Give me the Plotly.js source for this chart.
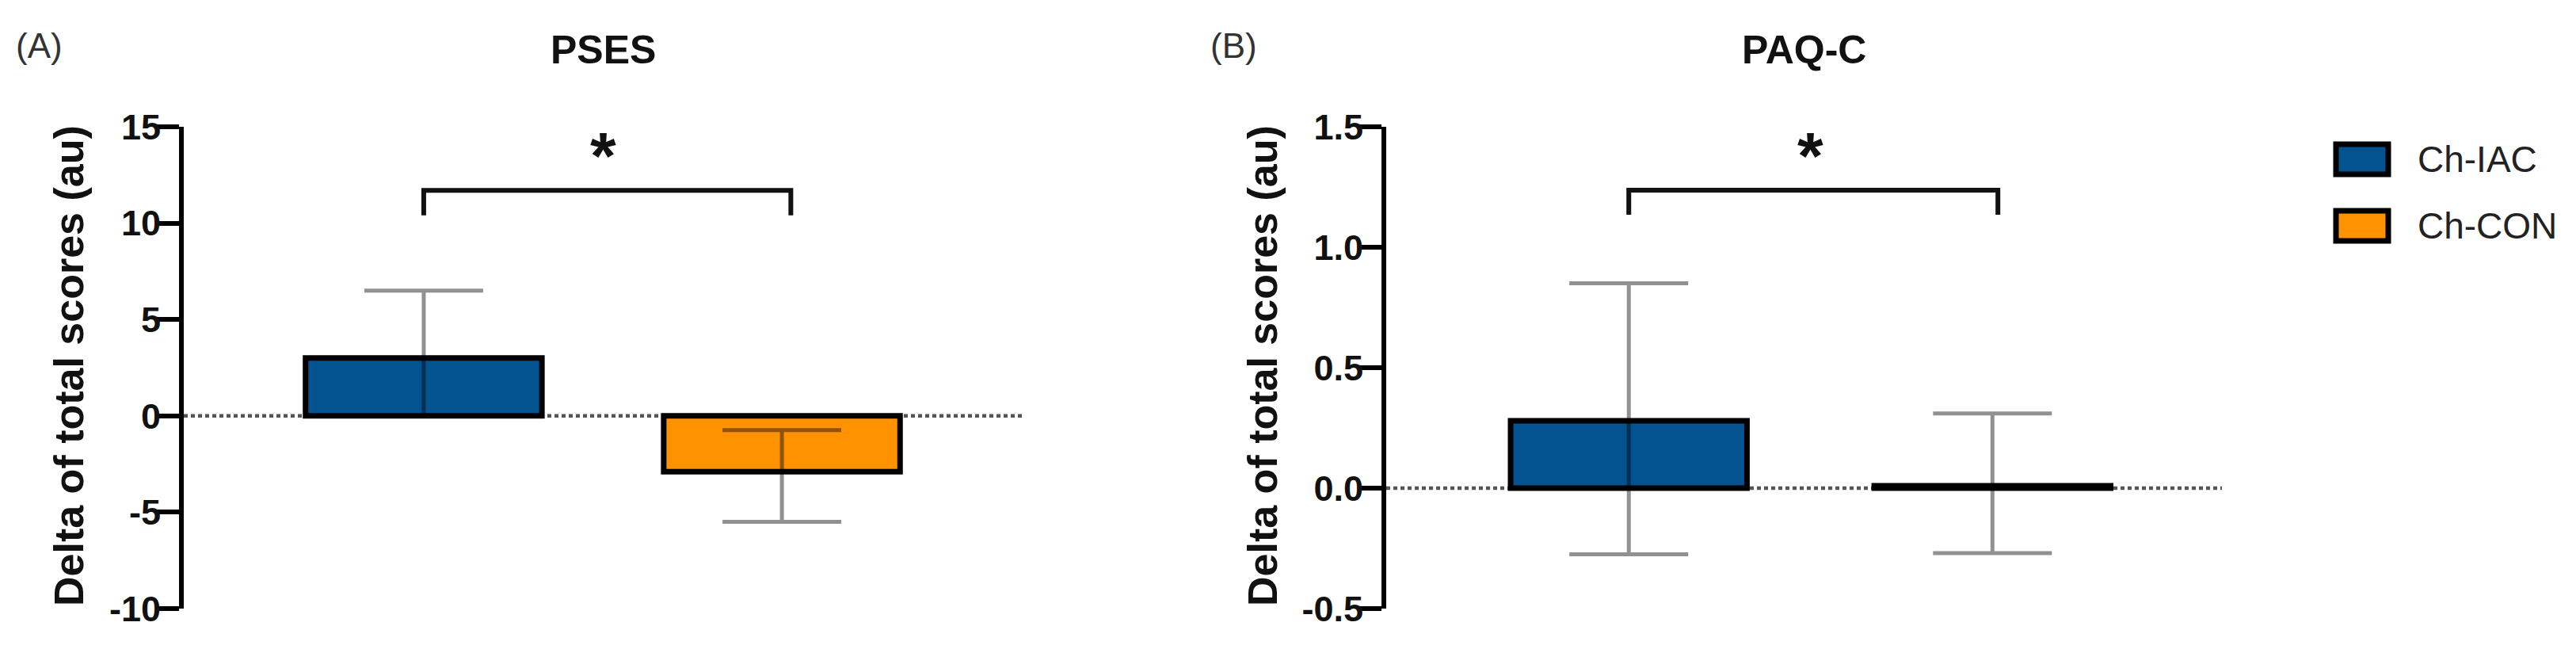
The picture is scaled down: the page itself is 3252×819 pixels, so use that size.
<!DOCTYPE html>
<html>
<head>
<meta charset="utf-8">
<script src="https://cdn.plot.ly/plotly-3.0.1.min.js"></script>
<style>html,body{margin:0;padding:0;background:#fff;}#chart{width:3252px;height:819px;}</style>
</head>
<body>
<div id="chart"></div>
<script>
// ---- data ----
const panelTitles = ['PSES', 'PAQ-C'];
const panelLetters = ['(A)', '(B)'];
const groups = ['Ch-IAC', 'Ch-CON'];
const psesMean = [3.0, -2.9];
const psesErrPlus = [3.5, 2.16];
const psesErrMinus = [3.0, 2.6];
const paqMean = [0.28, 0.01];
const paqErrPlus = [0.57, 0.30];
const paqErrMinus = [0.555, 0.28];
const psesTickVals = [-10, -5, 0, 5, 10, 15];
const psesTickText = ['-10', '-5', '0', '5', '10', '15'];
const paqTickVals = [-0.5, 0, 0.5, 1.0, 1.5];
const paqTickText = ['-0.5', '0.0', '0.5', '1.0', '1.5'];
const yTitle = 'Delta of total scores (au)';
const sigMark = '*';
const psesBracket = [10.4, 11.7];   // [ends, top]
const paqBracket = [1.135, 1.237];
const psesStarY = 11.7;
const paqStarY = 1.237;

// ---- style ----
const colors = ['#02538f', '#fe9200'];
const FONT = 'Liberation Sans, Arial, sans-serif';
const W = 3252, H = 819;
const plotTop = 160, plotBottom = 768;
const px2x = p => p / W;
const py2y = p => (plotBottom - p) / (plotBottom - plotTop);

const errStyle = {type: 'data', symmetric: false, color: 'rgba(0,0,0,0.43)', thickness: 5, width: 75};

const traces = [
  {type: 'bar', x: groups, y: psesMean, xaxis: 'x', yaxis: 'y', width: 0.66,
   marker: {color: colors, line: {color: '#000', width: 7}},
   error_y: Object.assign({array: psesErrPlus, arrayminus: psesErrMinus}, errStyle),
   showlegend: false, hoverinfo: 'x+y'},
  {type: 'bar', x: groups, y: paqMean, xaxis: 'x2', yaxis: 'y2', width: 0.65,
   marker: {color: colors, line: {color: '#000', width: 7}},
   error_y: Object.assign({array: paqErrPlus, arrayminus: paqErrMinus}, errStyle),
   showlegend: false, hoverinfo: 'x+y'}
];

const xCommon = {showticklabels: false, showline: false, showgrid: false, zeroline: false, ticks: '', fixedrange: true};
const yCommon = {showline: true, linewidth: 6, linecolor: '#000', ticks: 'outside', ticklen: 30, tickwidth: 6,
  tickcolor: '#000', showgrid: false, zeroline: false, tickmode: 'array', ticklabelstandoff: -16,
  tickfont: {family: FONT, size: 45, color: '#111', weight: 'bold'}};

const domA = [px2x(232), px2x(1290)];
const domB = [px2x(1750), px2x(2805)];

const shapes = [];
// dotted zero lines
['y', 'y2'].forEach((ya, i) => {
  shapes.push({type: 'line', xref: (i === 0 ? 'x' : 'x2') + ' domain', x0: 0, x1: 1, yref: ya, y0: 0, y1: 0,
    line: {color: '#555', width: 4.5, dash: '5px,4px'}, layer: 'below'});
});
// significance brackets
[[psesBracket, 'x', 'y', [0.0, 1.025]], [paqBracket, 'x2', 'y2', [0.0, 1.015]]].forEach(([b, xa, ya, xs]) => {
  shapes.push({type: 'path', xref: xa, yref: ya,
    path: `M ${xs[0]},${b[0]} L ${xs[0]},${b[1]} L ${xs[1]},${b[1]} L ${xs[1]},${b[0]}`,
    line: {color: '#111', width: 6}});
});
// legend swatches
const legRows = [201, 285];
groups.forEach((g, i) => {
  shapes.push({type: 'rect', xref: 'paper', yref: 'paper',
    x0: px2x(2949), x1: px2x(3015), y0: py2y(legRows[i] + 19), y1: py2y(legRows[i] - 19),
    fillcolor: colors[i], line: {color: '#000', width: 7}});
});

const annotations = [];
// panel titles and letters
[[domA, 0], [domB, 1]].forEach(([d, i]) => {
  annotations.push({xref: 'paper', yref: 'paper', x: (d[0] + d[1]) / 2, y: py2y(63), text: '<b>' + panelTitles[i] + '</b>',
    showarrow: false, xanchor: 'center', yanchor: 'middle', font: {family: FONT, size: 50, color: '#111'}});
});
annotations.push({xref: 'paper', yref: 'paper', x: px2x(18), y: py2y(58), text: panelLetters[0], showarrow: false,
  xanchor: 'left', yanchor: 'middle', font: {family: FONT, size: 44, color: '#333'}});
annotations.push({xref: 'paper', yref: 'paper', x: px2x(1526), y: py2y(58), text: panelLetters[1], showarrow: false,
  xanchor: 'left', yanchor: 'middle', font: {family: FONT, size: 44, color: '#333'}});
// y titles
[[87, 'A'], [1594, 'B']].forEach(([xp]) => {
  annotations.push({xref: 'paper', yref: 'paper', x: px2x(xp), y: py2y(462), text: '<b>' + yTitle + '</b>', textangle: -90,
    showarrow: false, xanchor: 'center', yanchor: 'middle', font: {family: FONT, size: 52, color: '#111'}});
});
// stars
annotations.push({xref: 'x', yref: 'y', x: 0.5, y: psesStarY, text: '<b>' + sigMark + '</b>', showarrow: false,
  xanchor: 'center', yanchor: 'bottom', yshift: -6, font: {family: FONT, size: 84, color: '#111'}});
annotations.push({xref: 'x2', yref: 'y2', x: 0.5, y: paqStarY, text: '<b>' + sigMark + '</b>', showarrow: false,
  xanchor: 'center', yanchor: 'bottom', yshift: -6, font: {family: FONT, size: 84, color: '#111'}});
// legend text
groups.forEach((g, i) => {
  annotations.push({xref: 'paper', yref: 'paper', x: px2x(3050), y: py2y(legRows[i]), text: g, showarrow: false,
    xanchor: 'left', yanchor: 'middle', font: {family: FONT, size: 46, color: '#222'}});
});

const layout = {
  width: W, height: H,
  margin: {l: 0, r: 0, t: plotTop, b: H - plotBottom, pad: 0},
  paper_bgcolor: '#fff', plot_bgcolor: '#fff',
  showlegend: false,
  bargap: 0.3,
  xaxis: Object.assign({domain: domA, range: [-0.67, 1.67], anchor: 'y'}, xCommon),
  xaxis2: Object.assign({domain: domB, range: [-0.667, 1.631], anchor: 'y2'}, xCommon),
  yaxis: Object.assign({range: [-10, 15], tickvals: psesTickVals, ticktext: psesTickText, anchor: 'x'}, yCommon),
  yaxis2: Object.assign({range: [-0.5, 1.5], tickvals: paqTickVals, ticktext: paqTickText, anchor: 'x2'}, yCommon),
  shapes: shapes,
  annotations: annotations
};

Plotly.newPlot('chart', traces, layout, {displayModeBar: false, staticPlot: true});
</script>
</body>
</html>
